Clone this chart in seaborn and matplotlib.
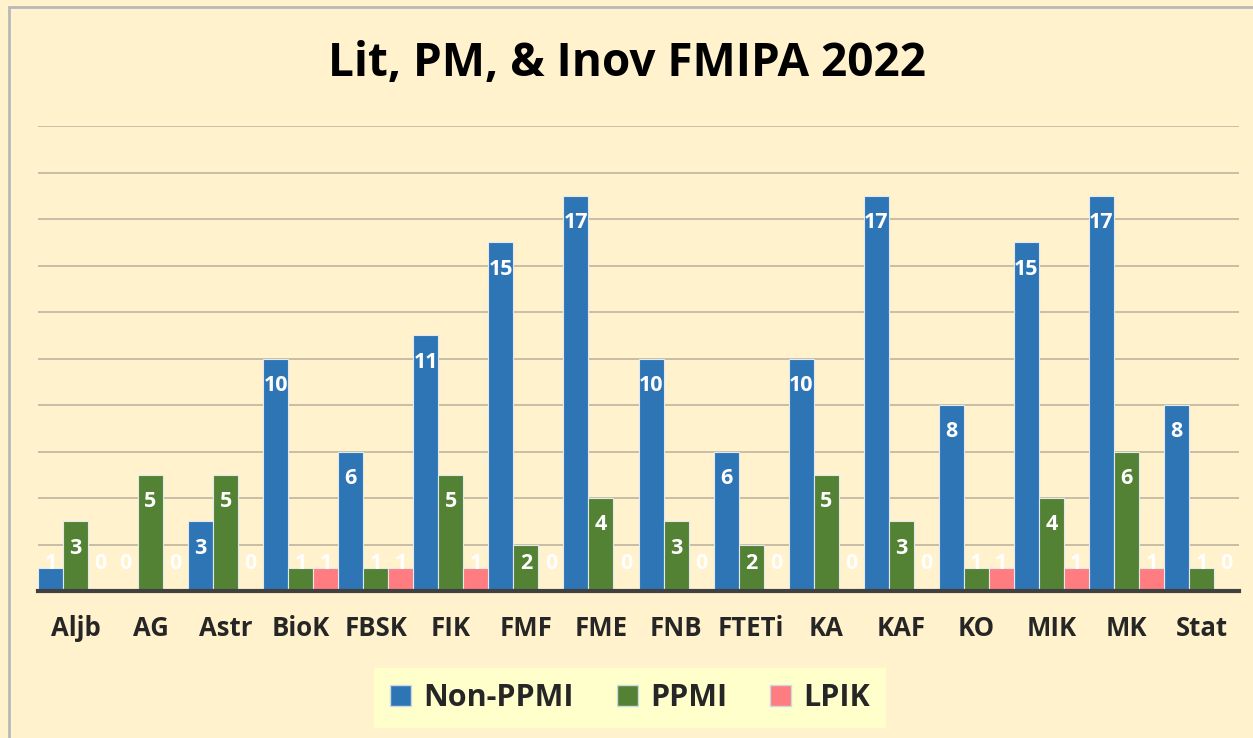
import matplotlib
matplotlib.use('Agg')
import matplotlib.pyplot as plt
import matplotlib.patches as mpatches
import seaborn as sns
import pandas as pd

# data
categories = ['Aljb', 'AG', 'Astr', 'BioK', 'FBSK', 'FIK', 'FMF', 'FME',
              'FNB', 'FTETi', 'KA', 'KAF', 'KO', 'MIK', 'MK', 'Stat']
non_ppmi = [1, 0, 3, 10, 6, 11, 15, 17, 10, 6, 10, 17, 8, 15, 17, 8]
ppmi = [3, 5, 5, 1, 1, 5, 2, 4, 3, 2, 5, 3, 1, 4, 6, 1]
lpik = [0, 0, 0, 1, 1, 1, 0, 0, 0, 0, 0, 0, 1, 1, 1, 0]
series = ['Non-PPMI', 'PPMI', 'LPIK']

BG = '#FFF2CC'
COLORS = ['#2E75B6', '#548235', '#FF7C80']

df = pd.DataFrame({
    'cat': categories * 3,
    'val': non_ppmi + ppmi + lpik,
    'series': [s for s in series for _ in categories],
})

sns.set_style('white')
plt.rcParams['font.family'] = ['Open Sans', 'DejaVu Sans']

W, H = 1253, 738
fig = plt.figure(figsize=(W / 100, H / 100), dpi=100, facecolor=BG)
fig.patches.append(mpatches.Rectangle((9 / W, -0.05), 1.2, 1 - 7 / H + 0.05,
                                      transform=fig.transFigure, fill=False,
                                      edgecolor='#b8b8b8', linewidth=2))
ax = fig.add_axes([38 / W, (H - 591) / H, 1201 / W, 465 / H])
ax.set_facecolor(BG)

sns.barplot(data=df, x='cat', y='val', hue='series', order=categories,
            hue_order=series, palette=COLORS, saturation=1, width=1.0, ax=ax,
            edgecolor='#e4e9f0', linewidth=0.8, legend=False, errorbar=None)

ax.set_ylim(0, 20)
ax.set_xlim(-0.5, len(categories) - 0.5)
ax.set_yticks(range(2, 21, 2))
ax.set_yticklabels([])
ax.tick_params(axis='y', length=0)
ax.yaxis.grid(True, color='#bdb59f', linewidth=1.2)
ax.set_axisbelow(True)
for s in ['top', 'right', 'left']:
    ax.spines[s].set_visible(False)
ax.spines['bottom'].set_color('#404040')
ax.spines['bottom'].set_linewidth(3)
ax.tick_params(axis='x', length=0, pad=17, labelsize=18.5)
for lbl in ax.get_xticklabels():
    lbl.set_fontweight('bold')
ax.set_xlabel('')
ax.set_ylabel('')

# value labels, inside end like the original
for cont in ax.containers:
    for bar in cont:
        v = bar.get_height()
        y = max(v - 1.16, 1.2)
        ax.text(bar.get_x() + bar.get_width() / 2, y, f'{int(round(v))}',
                ha='center', va='center', color='white', fontsize=15.5,
                fontweight='bold')

fig.text(0.5, 1 - 63 / H, 'Lit, PM, & Inov FMIPA 2022', ha='center',
         va='center', fontsize=33, fontweight='bold', color='black')

handles = [mpatches.Patch(facecolor=c, edgecolor='#d0d8e0', label=s)
           for c, s in zip(COLORS, series)]
leg = fig.legend(handles=handles, loc='center', ncol=3,
                 bbox_to_anchor=(630 / W, 1 - 698 / H), frameon=True,
                 facecolor='#FFFFCC', edgecolor='none', fancybox=False,
                 prop={'weight': 'bold', 'size': 22}, handlelength=0.7,
                 handleheight=0.7, handletextpad=0.4, columnspacing=1.4,
                 borderpad=0.5)
leg.get_frame().set_alpha(1)

fig.savefig('out.png', dpi=100, facecolor=BG)
